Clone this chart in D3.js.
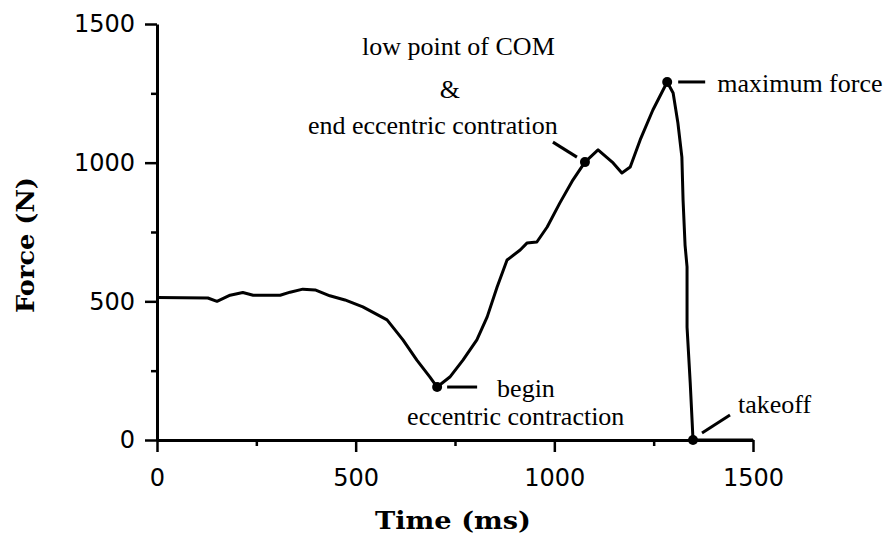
<!DOCTYPE html>
<html>
    <head>
        <meta charset="utf-8"/>
        <script src="https://cdnjs.cloudflare.com/ajax/libs/d3/7.8.5/d3.min.js"></script>
        <style>
            body { margin: 0; background: #fff; }
        </style>
    </head>
    <body>
        <script>
            // force plate trace
            const timeMs = [0, 128, 151, 184, 216, 242, 310, 335, 367, 398, 435, 473, 518, 579, 619, 654, 687, 705,
                            737, 770, 805, 831, 856, 881, 914, 931, 956, 982, 1014, 1047, 1077, 1110, 1148, 1170, 1191,
                            1216, 1248, 1284, 1299, 1311, 1321, 1324, 1329, 1334, 1334, 1342, 1347, 1349, 1400, 1450, 1500];
            const forceN = [514, 512, 500, 522, 532, 522, 522, 533, 544, 541, 520, 505, 480, 433, 361, 288, 227, 191,
                            227, 288, 361, 444, 552, 649, 685, 710, 714, 768, 855, 938, 1002, 1046, 999, 963, 984,
                            1082, 1190, 1291, 1251, 1143, 1020, 865, 703, 624, 407, 206, 61, 0, 0, 0, 0];
            const xTicks = [0, 500, 1000, 1500];
            const yTicks = [0, 500, 1000, 1500];
            const xMinor = [250, 750, 1250];
            const yMinor = [250, 750, 1250];

            // marked events: index into the series
            const events = [
                {name: "begin", i: 17},
                {name: "com", i: 30},
                {name: "max", i: 37},
                {name: "takeoff", i: 47}
            ];

            const width = 890, height = 535;
            const x = d3.scaleLinear().domain([0, 1500]).range([157, 753]);
            const y = d3.scaleLinear().domain([0, 1500]).range([440, 24]);

            const svg = d3.select("body").append("svg")
                .attr("width", width)
                .attr("height", height);

            const tickFont = "'DejaVu Sans', sans-serif";
            const serif = "'Liberation Serif', 'Times New Roman', serif";
            const fmt = d3.format("d");

            // axes
            svg.append("g")
                .attr("transform", `translate(0,${y(0)})`)
                .call(d3.axisBottom(x).tickValues(xTicks).tickFormat(fmt)
                    .tickSize(12).tickSizeOuter(0).tickPadding(17));
            svg.append("g")
                .attr("transform", `translate(0,${y(0)})`)
                .call(d3.axisBottom(x).tickValues(xMinor).tickSize(6).tickFormat(""))
                .call(g => g.select(".domain").remove());

            svg.append("g")
                .attr("transform", `translate(${x(0)},0)`)
                .call(d3.axisLeft(y).tickValues(yTicks).tickFormat(fmt)
                    .tickSize(12).tickSizeOuter(0).tickPadding(10));
            svg.append("g")
                .attr("transform", `translate(${x(0)},0)`)
                .call(d3.axisLeft(y).tickValues(yMinor).tickSize(6).tickFormat(""))
                .call(g => g.select(".domain").remove());

            svg.selectAll(".domain").attr("stroke", "#000").attr("stroke-width", 3);
            svg.selectAll(".tick line").attr("stroke", "#000").attr("stroke-width", 2.5);
            svg.selectAll(".tick text")
                .attr("font-family", tickFont)
                .attr("font-size", 24)
                .attr("fill", "#000");

            // axis titles
            svg.append("text")
                .attr("x", 453)
                .attr("y", 529)
                .attr("text-anchor", "middle")
                .attr("font-family", "'DejaVu Serif', serif")
                .attr("font-weight", "bold")
                .attr("font-size", 25)
                .attr("textLength", 156)
                .attr("lengthAdjust", "spacingAndGlyphs")
                .text("Time (ms)");

            svg.append("text")
                .attr("transform", "translate(34,245) rotate(-90)")
                .attr("text-anchor", "middle")
                .attr("font-family", "'DejaVu Serif', serif")
                .attr("font-weight", "bold")
                .attr("font-size", 25)
                .attr("textLength", 136)
                .attr("lengthAdjust", "spacingAndGlyphs")
                .text("Force (N)");

            // trace
            const pts = timeMs.map((t, i) => [t, forceN[i]]);
            const line = d3.line().x(d => x(d[0])).y(d => y(d[1]));
            svg.append("path")
                .datum(pts)
                .attr("d", line)
                .attr("fill", "none")
                .attr("stroke", "#000")
                .attr("stroke-width", 3)
                .attr("stroke-linejoin", "round");

            // event dots
            svg.append("g")
                .selectAll("circle")
                .data(events)
                .join("circle")
                .attr("cx", d => x(timeMs[d.i]))
                .attr("cy", d => y(forceN[d.i]))
                .attr("r", 5)
                .attr("fill", "#000");

            // labels and leaders, placed relative to each dot
            const pos = name => {
                const e = events.find(d => d.name == name);
                return [x(timeMs[e.i]), y(forceN[e.i])];
            };
            const ann = svg.append("g")
                .attr("font-family", serif)
                .attr("font-size", 26)
                .attr("fill", "#000");
            const leader = (p, x1, y1, x2, y2) => ann.append("line")
                .attr("x1", p[0] + x1).attr("y1", p[1] + y1)
                .attr("x2", p[0] + x2).attr("y2", p[1] + y2)
                .attr("stroke", "#000").attr("stroke-width", 3);
            const label = (p, dx, dy, txt, anchor) => ann.append("text")
                .attr("x", p[0] + dx).attr("y", p[1] + dy)
                .attr("text-anchor", anchor || "start")
                .text(txt);

            let p = pos("begin");
            leader(p, 10, 0, 40, 0);
            label(p, 60, 10, "begin");
            label(p, -30, 38, "eccentric contraction");

            p = pos("com");
            leader(p, -32, -20, -8, -5);
            label(p, -223, -107, "low point of COM");
            label(p, -135, -64, "&", "middle");
            label(p, -277, -28, "end eccentric contration");

            p = pos("max");
            leader(p, 11, 0, 38, 0);
            label(p, 50, 10, "maximum force");

            p = pos("takeoff");
            leader(p, 9, -7, 37, -25);
            label(p, 45, -27, "takeoff");
        </script>
    </body>
</html>
